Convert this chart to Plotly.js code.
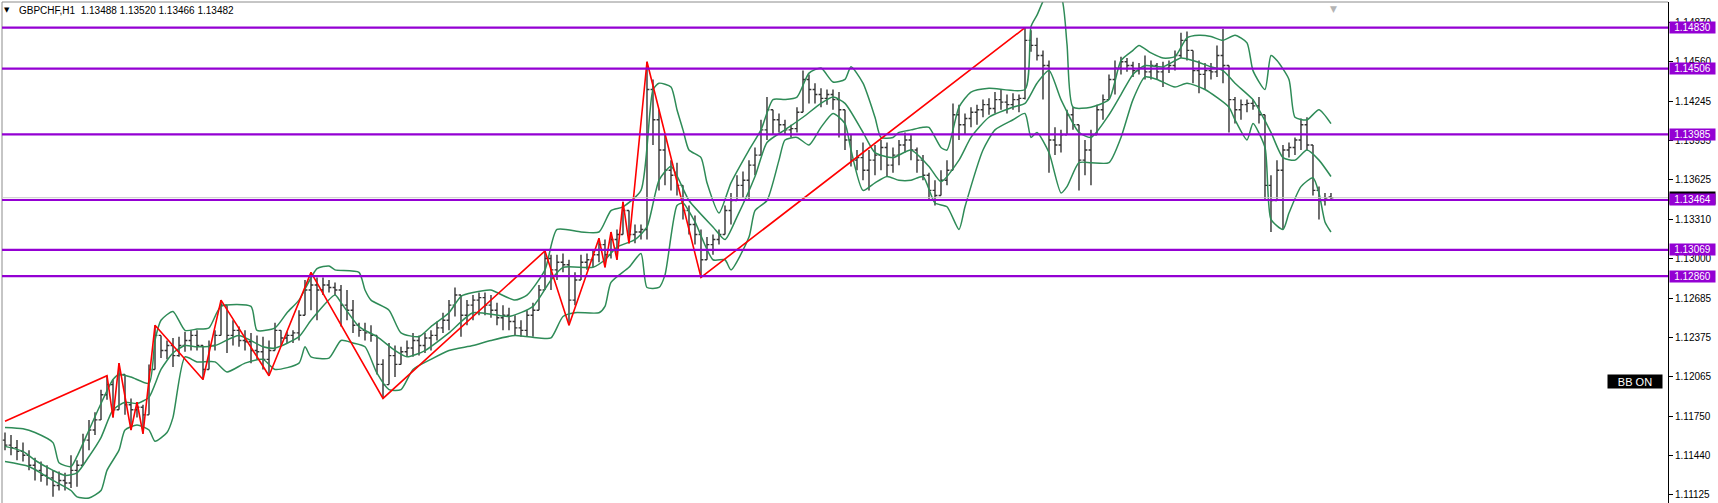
<!DOCTYPE html>
<html><head><meta charset="utf-8">
<script src="https://cdn.plot.ly/plotly-3.0.1.min.js"></script>
<style>html,body{margin:0;padding:0;background:#fff;overflow:hidden}#chart{width:1718px;height:503px}</style>
</head><body><div id="chart"></div>
<script>
// ---- data (GBPCHF, H1) ----
const symbolTitle = 'GBPCHF,H1';
const lastOHLC = [1.13488, 1.13520, 1.13466, 1.13482];

const barOpen = [
1.1156,1.1152,1.1150,1.1147,1.1144,1.1136,1.1132,1.1128,1.1126,1.1120,
1.1124,1.1122,1.1132,1.1136,1.1156,1.1164,1.1172,1.1192,1.1200,1.1180,
1.1208,1.1184,1.1180,1.1182,1.1176,1.1212,1.1239,1.1227,1.1231,1.1223,
1.1231,1.1235,1.1239,1.1231,1.1212,1.1231,1.1239,1.1263,1.1239,1.1243,
1.1235,1.1234,1.1227,1.1226,1.1220,1.1227,1.1243,1.1237,1.1239,1.1241,
1.1255,1.1275,1.1279,1.1275,1.1279,1.1277,1.1275,1.1263,1.1259,1.1247,
1.1243,1.1241,1.1239,1.1216,1.1200,1.1223,1.1216,1.1226,1.1229,1.1235,
1.1231,1.1237,1.1239,1.1245,1.1251,1.1263,1.1271,1.1255,1.1263,1.1267,
1.1269,1.1263,1.1259,1.1253,1.1255,1.1250,1.1245,1.1243,1.1255,1.1259,
1.1275,1.1300,1.1291,1.1297,1.1295,1.1267,1.1283,1.1297,1.1299,1.1303,
1.1311,1.1303,1.1315,1.1319,1.1338,1.1319,1.1321,1.1323,1.1434,1.1410,
1.1386,1.1370,1.1366,1.1358,1.1338,1.1327,1.1319,1.1299,1.1311,1.1315,
1.1319,1.1338,1.1346,1.1358,1.1362,1.1374,1.1382,1.1402,1.1418,1.1410,
1.1406,1.1402,1.1403,1.1416,1.1442,1.1434,1.1430,1.1427,1.1430,1.1426,
1.1418,1.1394,1.1378,1.1380,1.1370,1.1378,1.1382,1.1388,1.1374,1.1382,
1.1390,1.1394,1.1386,1.1378,1.1366,1.1354,1.1350,1.1362,1.1370,1.1414,
1.1406,1.1411,1.1416,1.1418,1.1422,1.1419,1.1426,1.1424,1.1422,1.1426,
1.1427,1.1473,1.1469,1.1461,1.1453,1.1394,1.1390,1.1398,1.1414,1.1406,
1.1378,1.1386,1.1398,1.1418,1.1426,1.1442,1.1451,1.1456,1.1453,1.1449,
1.1451,1.1448,1.1453,1.1448,1.1451,1.1453,1.1461,1.1473,1.1465,1.1449,
1.1446,1.1449,1.1448,1.1461,1.1453,1.1426,1.1418,1.1422,1.1423,1.1421,
1.1414,1.1358,1.1346,1.1370,1.1386,1.1388,1.1394,1.1406,1.1390,1.1354,
1.1346,1.13488];
const barHigh = [
1.1162,1.1160,1.1156,1.1154,1.1148,1.1142,1.1139,1.1136,1.1132,1.1131,
1.1130,1.1144,1.1140,1.1161,1.1172,1.1178,1.1196,1.1207,1.1204,1.1217,
1.1208,1.1189,1.1186,1.1184,1.1216,1.1247,1.1239,1.1235,1.1237,1.1238,
1.1242,1.1243,1.1243,1.1231,1.1235,1.1243,1.1267,1.1263,1.1251,1.1246,
1.1243,1.1241,1.1239,1.1238,1.1235,1.1249,1.1243,1.1242,1.1243,1.1259,
1.1283,1.1289,1.1285,1.1285,1.1283,1.1281,1.1279,1.1275,1.1267,1.1249,
1.1249,1.1247,1.1239,1.1220,1.1233,1.1231,1.1230,1.1235,1.1241,1.1239,
1.1241,1.1243,1.1250,1.1257,1.1267,1.1277,1.1271,1.1267,1.1271,1.1273,
1.1273,1.1271,1.1265,1.1263,1.1261,1.1255,1.1251,1.1259,1.1265,1.1279,
1.1306,1.1303,1.1303,1.1304,1.1299,1.1289,1.1303,1.1304,1.1307,1.1316,
1.1315,1.1321,1.1323,1.1345,1.1338,1.1327,1.1327,1.1456,1.1442,1.1418,
1.1398,1.1378,1.1376,1.1358,1.1342,1.1334,1.1323,1.1317,1.1319,1.1323,
1.1342,1.1352,1.1366,1.1369,1.1378,1.1388,1.1410,1.1428,1.1418,1.1415,
1.1410,1.1406,1.1420,1.1449,1.1446,1.1439,1.1435,1.1434,1.1434,1.1432,
1.1418,1.1398,1.1386,1.1392,1.1386,1.1390,1.1394,1.1392,1.1388,1.1394,
1.1400,1.1398,1.1388,1.1382,1.1368,1.1362,1.1370,1.1378,1.1423,1.1422,
1.1415,1.1420,1.1422,1.1426,1.1427,1.1432,1.1434,1.1430,1.1431,1.1430,
1.1483,1.1481,1.1475,1.1465,1.1457,1.1404,1.1402,1.1418,1.1420,1.1406,
1.1394,1.1402,1.1422,1.1430,1.1446,1.1457,1.1460,1.1459,1.1456,1.1455,
1.1461,1.1457,1.1455,1.1456,1.1457,1.1465,1.1479,1.1480,1.1465,1.1457,
1.1455,1.1455,1.1469,1.1482,1.1453,1.1428,1.1426,1.1426,1.1426,1.1428,
1.1414,1.1366,1.1378,1.1390,1.1392,1.1396,1.1411,1.1412,1.1390,1.1357,
1.1352,1.13520];
const barLow = [
1.1148,1.1144,1.1140,1.1139,1.1132,1.1124,1.1123,1.1120,1.1111,1.1116,
1.1116,1.1118,1.1119,1.1136,1.1148,1.1160,1.1172,1.1188,1.1174,1.1180,
1.1176,1.1164,1.1174,1.1161,1.1176,1.1212,1.1221,1.1220,1.1214,1.1222,
1.1226,1.1227,1.1227,1.1204,1.1212,1.1227,1.1239,1.1225,1.1231,1.1230,
1.1227,1.1217,1.1220,1.1212,1.1207,1.1227,1.1231,1.1233,1.1233,1.1235,
1.1255,1.1259,1.1251,1.1271,1.1273,1.1271,1.1246,1.1251,1.1241,1.1238,
1.1235,1.1234,1.1208,1.1189,1.1200,1.1206,1.1216,1.1222,1.1222,1.1223,
1.1225,1.1227,1.1235,1.1241,1.1243,1.1254,1.1238,1.1247,1.1251,1.1255,
1.1255,1.1253,1.1247,1.1243,1.1243,1.1239,1.1238,1.1238,1.1238,1.1259,
1.1275,1.1275,1.1283,1.1289,1.1247,1.1263,1.1283,1.1291,1.1293,1.1297,
1.1293,1.1300,1.1299,1.1319,1.1312,1.1312,1.1315,1.1315,1.1390,1.1354,
1.1358,1.1354,1.1350,1.1331,1.1319,1.1311,1.1285,1.1299,1.1303,1.1311,
1.1319,1.1327,1.1346,1.1348,1.1346,1.1366,1.1382,1.1394,1.1398,1.1400,
1.1398,1.1396,1.1400,1.1416,1.1423,1.1423,1.1420,1.1422,1.1418,1.1396,
1.1386,1.1373,1.1370,1.1362,1.1354,1.1366,1.1370,1.1365,1.1368,1.1374,
1.1384,1.1378,1.1368,1.1362,1.1346,1.1342,1.1350,1.1358,1.1370,1.1394,
1.1398,1.1404,1.1406,1.1412,1.1414,1.1415,1.1418,1.1415,1.1418,1.1416,
1.1426,1.1464,1.1457,1.1426,1.1368,1.1382,1.1384,1.1398,1.1402,1.1354,
1.1366,1.1358,1.1398,1.1410,1.1426,1.1430,1.1446,1.1448,1.1444,1.1446,
1.1442,1.1442,1.1442,1.1436,1.1447,1.1449,1.1459,1.1457,1.1439,1.1431,
1.1434,1.1442,1.1444,1.1439,1.1400,1.1407,1.1410,1.1416,1.1418,1.1407,
1.1346,1.1321,1.1346,1.1323,1.1380,1.1382,1.1386,1.1386,1.1350,1.1331,
1.1342,1.13466];
const barClose = [
1.1152,1.1150,1.1147,1.1144,1.1136,1.1132,1.1128,1.1126,1.1120,1.1124,
1.1122,1.1132,1.1136,1.1156,1.1164,1.1172,1.1192,1.1200,1.1180,1.1208,
1.1184,1.1180,1.1182,1.1176,1.1212,1.1239,1.1227,1.1231,1.1223,1.1231,
1.1235,1.1239,1.1231,1.1212,1.1231,1.1239,1.1263,1.1239,1.1243,1.1235,
1.1234,1.1227,1.1226,1.1220,1.1227,1.1243,1.1237,1.1239,1.1241,1.1255,
1.1275,1.1279,1.1275,1.1279,1.1277,1.1275,1.1263,1.1259,1.1247,1.1243,
1.1241,1.1239,1.1216,1.1200,1.1223,1.1216,1.1226,1.1229,1.1235,1.1231,
1.1237,1.1239,1.1245,1.1251,1.1263,1.1271,1.1255,1.1263,1.1267,1.1269,
1.1263,1.1259,1.1253,1.1255,1.1250,1.1245,1.1243,1.1255,1.1259,1.1275,
1.1300,1.1291,1.1297,1.1295,1.1267,1.1283,1.1297,1.1299,1.1303,1.1311,
1.1303,1.1315,1.1319,1.1338,1.1319,1.1321,1.1323,1.1434,1.1410,1.1386,
1.1370,1.1366,1.1358,1.1338,1.1327,1.1319,1.1299,1.1311,1.1315,1.1319,
1.1338,1.1346,1.1358,1.1362,1.1374,1.1382,1.1402,1.1418,1.1410,1.1406,
1.1402,1.1403,1.1416,1.1442,1.1434,1.1430,1.1427,1.1430,1.1426,1.1418,
1.1394,1.1378,1.1380,1.1370,1.1378,1.1382,1.1388,1.1374,1.1382,1.1390,
1.1394,1.1386,1.1378,1.1366,1.1354,1.1350,1.1362,1.1370,1.1414,1.1406,
1.1411,1.1416,1.1418,1.1422,1.1419,1.1426,1.1424,1.1422,1.1426,1.1427,
1.1473,1.1469,1.1461,1.1453,1.1394,1.1390,1.1398,1.1414,1.1406,1.1378,
1.1386,1.1398,1.1418,1.1426,1.1442,1.1451,1.1456,1.1453,1.1449,1.1451,
1.1448,1.1453,1.1448,1.1451,1.1453,1.1461,1.1473,1.1465,1.1449,1.1446,
1.1449,1.1448,1.1461,1.1453,1.1426,1.1418,1.1422,1.1423,1.1421,1.1414,
1.1358,1.1346,1.1370,1.1386,1.1388,1.1394,1.1406,1.1390,1.1354,1.1346,
1.1348,1.13482];

// ZigZag turning points (bar index, price)
const zzIdx = [0,17,18,19,21,22,23,25,33,36,44,51,63,90,94,99,100,101,102,103,104,107,116,170];
const zzPrice = [1.1171,1.1207,1.1174,1.1217,1.1164,1.1186,1.1161,1.1247,1.1204,1.1267,1.1207,1.1289,1.1189,1.1306,1.1247,1.1316,1.1293,1.1321,1.1299,1.1345,1.1312,1.1456,1.1285,1.1483];

// Bollinger bands (bar index, price)
const bbUpIdx = [0,3,5,8,9,11,12,14,16,18,19,21,24,25,26,28,30,32,34,36,41,42,45,47,49,52,54,55,59,60,61,64,66,69,71,74,76,78,81,82,85,87,90,92,96,99,101,103,106,108,109,111,112,113,114,116,117,119,121,124,126,128,130,132,134,136,138,140,141,143,145,146,148,149,151,153,154,156,157,159,161,164,170,171,172,174,176,177,178,181,184,186,188,189,191,193,195,197,199,201,203,205,207,208,210,211,212,214,215,217,219,221];
const bbUp = [1.1166,1.1165,1.1162,1.1154,1.1138,1.1135,1.1143,1.1164,1.1185,1.1204,1.1208,1.1206,1.1201,1.1235,1.1251,1.1258,1.1243,1.1244,1.1245,1.1262,1.1262,1.1243,1.1245,1.1257,1.1267,1.1292,1.1294,1.1291,1.1289,1.1275,1.1267,1.1259,1.1241,1.1238,1.1246,1.1257,1.1270,1.1273,1.1275,1.1273,1.1267,1.1271,1.1291,1.1323,1.1321,1.1321,1.1338,1.1341,1.1354,1.1434,1.1439,1.1436,1.1418,1.1402,1.1386,1.1380,1.1360,1.1336,1.1360,1.1386,1.1402,1.1426,1.1426,1.1428,1.1447,1.1451,1.1440,1.1442,1.1452,1.1439,1.1412,1.1396,1.1396,1.1400,1.1402,1.1404,1.1404,1.1388,1.1386,1.1420,1.1432,1.1435,1.1434,1.1484,1.1493,1.1512,1.1508,1.1470,1.1420,1.1420,1.1426,1.1457,1.1465,1.1469,1.1463,1.1459,1.1460,1.1475,1.1477,1.1476,1.1473,1.1477,1.1471,1.1449,1.1434,1.1461,1.1457,1.1442,1.1412,1.1410,1.1418,1.1407];
const bbMidIdx = [0,3,5,8,10,12,14,16,18,20,22,24,26,28,30,32,35,39,43,45,49,51,55,56,59,62,65,67,70,74,78,84,88,91,93,98,100,102,105,107,109,111,114,118,120,122,125,127,130,133,136,138,140,143,145,148,151,154,156,159,161,164,168,170,172,174,176,179,181,184,186,188,190,193,196,198,201,203,205,208,209,211,213,215,217,219,221];
const bbMid = [1.1151,1.1147,1.1140,1.1132,1.1128,1.1130,1.1143,1.1158,1.1180,1.1186,1.1185,1.1190,1.1212,1.1225,1.1231,1.1230,1.1231,1.1239,1.1230,1.1229,1.1238,1.1251,1.1271,1.1265,1.1246,1.1238,1.1227,1.1222,1.1227,1.1241,1.1257,1.1254,1.1262,1.1283,1.1293,1.1293,1.1299,1.1309,1.1315,1.1325,1.1362,1.1373,1.1346,1.1325,1.1315,1.1333,1.1365,1.1392,1.1402,1.1412,1.1423,1.1428,1.1423,1.1400,1.1384,1.1380,1.1386,1.1373,1.1361,1.1378,1.1396,1.1412,1.1420,1.1423,1.1439,1.1449,1.1426,1.1400,1.1396,1.1414,1.1430,1.1446,1.1453,1.1452,1.1459,1.1457,1.1452,1.1449,1.1439,1.1426,1.1418,1.1400,1.1380,1.1378,1.1386,1.1378,1.1365];
const bbLowIdx = [0,4,8,11,12,14,16,17,19,20,22,24,25,27,28,30,32,35,37,40,43,45,49,50,51,54,56,58,60,62,64,66,68,71,74,78,81,85,89,91,93,95,99,100,101,104,106,107,109,110,112,113,115,118,120,121,124,125,127,129,130,132,134,136,138,140,141,143,145,147,149,151,153,155,157,159,160,163,165,168,170,171,172,174,176,177,179,181,184,186,188,190,192,195,197,200,204,205,207,208,210,211,213,214,216,218,219,220,221];
const bbLow = [1.1139,1.1135,1.1124,1.1116,1.1111,1.1110,1.1116,1.1132,1.1148,1.1164,1.1168,1.1164,1.1155,1.1162,1.1174,1.1222,1.1218,1.1218,1.1210,1.1217,1.1220,1.1212,1.1217,1.1230,1.1222,1.1221,1.1235,1.1233,1.1230,1.1209,1.1196,1.1196,1.1212,1.1220,1.1227,1.1231,1.1235,1.1239,1.1237,1.1237,1.1254,1.1257,1.1257,1.1262,1.1281,1.1293,1.1304,1.1277,1.1277,1.1287,1.1342,1.1344,1.1329,1.1299,1.1299,1.1291,1.1317,1.1338,1.1346,1.1378,1.1394,1.1396,1.1390,1.1404,1.1415,1.1407,1.1386,1.1354,1.1360,1.1365,1.1362,1.1362,1.1365,1.1344,1.1341,1.1323,1.1341,1.1386,1.1402,1.1410,1.1415,1.1396,1.1400,1.1384,1.1352,1.1357,1.1376,1.1376,1.1376,1.1396,1.1426,1.1444,1.1442,1.1436,1.1439,1.1434,1.1420,1.1410,1.1394,1.1407,1.1388,1.1331,1.1323,1.1336,1.1357,1.1364,1.1352,1.1329,1.1321];

// Horizontal levels and axis ticks
const levels = [1.14830, 1.14506, 1.13985, 1.13464, 1.13069, 1.12860];
const bidPrice = 1.13482;
const tickVals = [1.11125,1.11440,1.11750,1.12065,1.12375,1.12685,1.13000,1.13310,1.13625,1.13935,1.14245,1.14560,1.14870];
const indicatorLabel = 'BB ON';

// ---- drawing ----
const FONT = 'Liberation Sans, Arial, sans-serif';
const barIdx = barClose.map((_, i) => i);

const traces = [
  {type:'ohlc', x:barIdx, open:barOpen, high:barHigh, low:barLow, close:barClose,
   increasing:{line:{color:'#333333', width:1.4}}, decreasing:{line:{color:'#333333', width:1.4}},
   tickwidth:0.4, hoverinfo:'skip', showlegend:false},
  {type:'scatter', mode:'lines', x:bbUpIdx, y:bbUp, line:{color:'#2e8b57', width:1.5, shape:'spline', smoothing:0.6}, hoverinfo:'skip', showlegend:false},
  {type:'scatter', mode:'lines', x:bbMidIdx, y:bbMid, line:{color:'#2e8b57', width:1.5, shape:'spline', smoothing:0.6}, hoverinfo:'skip', showlegend:false},
  {type:'scatter', mode:'lines', x:bbLowIdx, y:bbLow, line:{color:'#2e8b57', width:1.5, shape:'spline', smoothing:0.6}, hoverinfo:'skip', showlegend:false},
  {type:'scatter', mode:'lines', x:zzIdx, y:zzPrice, line:{color:'#ff0000', width:1.6}, hoverinfo:'skip', showlegend:false}
];

const shapes = [
  {type:'line', xref:'paper', yref:'paper', x0:0, x1:0, y0:0, y1:1, line:{color:'#8c8c8c', width:1}},
  {type:'line', xref:'paper', yref:'paper', x0:0, x1:1, y0:1, y1:1, line:{color:'#8c8c8c', width:1}},
  {type:'line', xref:'paper', yref:'y', x0:0, x1:1, y0:bidPrice, y1:bidPrice, line:{color:'#c8c8c8', width:1}}
];
levels.forEach(v => shapes.push({type:'line', xref:'paper', yref:'y', x0:0, x1:1, y0:v, y1:v, line:{color:'#9400d3', width:2.2}}));

const annotations = [
  {xref:'paper', yref:'paper', x:0.0033, y:0.985, xanchor:'center', yanchor:'middle', text:'▼', showarrow:false, font:{family:'DejaVu Sans', size:7, color:'#000'}},
  {xref:'paper', yref:'paper', x:0.009, y:0.984, xanchor:'left', yanchor:'middle', showarrow:false,
   text: symbolTitle + '\u00a0\u00a0' + lastOHLC.map(v => v.toFixed(5)).join(' '), font:{family:FONT, size:10, color:'#000'}},
  {xref:'paper', yref:'paper', x:0.799, y:1, xanchor:'center', yanchor:'top', text:'▼', showarrow:false, font:{family:'DejaVu Sans', size:9, color:'#b4b4b4'}},
  {xref:'paper', yref:'paper', x:0.9802, y:0.2425, xanchor:'center', yanchor:'middle', text:indicatorLabel, showarrow:false,
   bgcolor:'#000', width:52, height:11, borderpad:1, font:{family:FONT, size:11, color:'#fff'}},
  {xref:'paper', yref:'y', x:1, xshift:1, y:bidPrice, xanchor:'left', yanchor:'middle', text:bidPrice.toFixed(5), showarrow:false,
   bgcolor:'#000', width:43, height:10, borderpad:1, font:{family:FONT, size:10, color:'#fff'}}
];
levels.forEach(v => annotations.push({xref:'paper', yref:'y', x:1, xshift:1, y:v, xanchor:'left', yanchor:'middle',
  text:v.toFixed(5), showarrow:false, bgcolor:'#9400d3', width:43, height:9, borderpad:1, font:{family:FONT, size:10, color:'#fff'}}));

const layout = {
  width:1718, height:503,
  margin:{l:2, r:50, t:2, b:0, pad:0},
  paper_bgcolor:'#fff', plot_bgcolor:'#fff',
  showlegend:false,
  xaxis:{range:[-0.5, 277.17], showgrid:false, zeroline:false, showticklabels:false, ticks:'', showline:false,
         rangeslider:{visible:false}, fixedrange:true},
  yaxis:{range:[1.11061, 1.15034], side:'right', showgrid:false, zeroline:false, showline:true, linecolor:'#000', linewidth:1,
         ticks:'outside', ticklen:4, tickcolor:'#000', tickvals:tickVals, ticktext:tickVals.map(v => v.toFixed(5)),
         tickfont:{family:FONT, size:10, color:'#000'}, fixedrange:true, automargin:false},
  shapes:shapes, annotations:annotations
};

Plotly.newPlot('chart', traces, layout, {staticPlot:true, displayModeBar:false});
</script>
</body></html>
